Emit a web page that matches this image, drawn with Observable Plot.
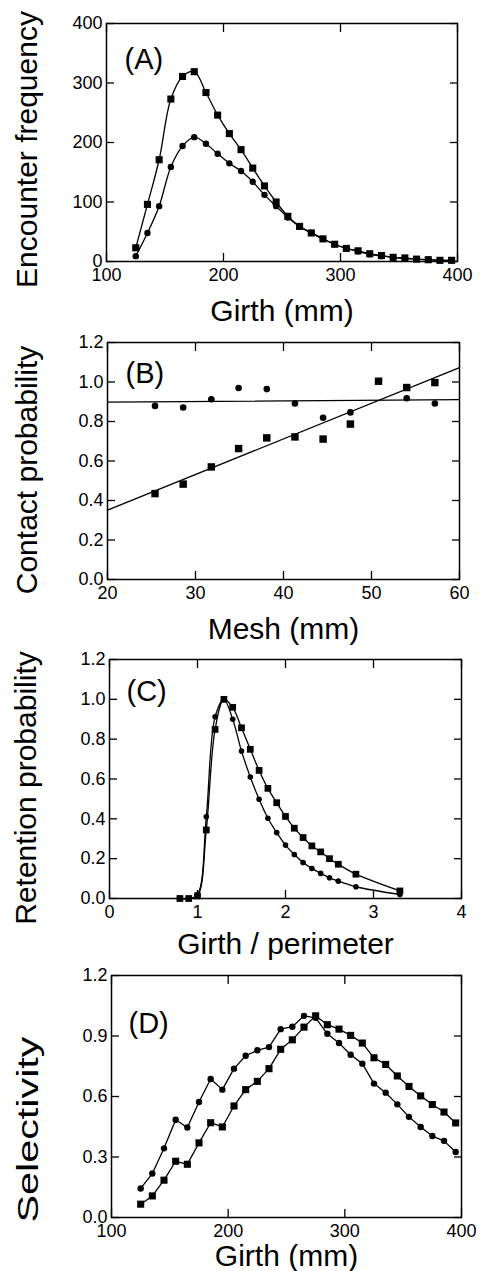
<!DOCTYPE html>
<html><head><meta charset="utf-8">
<script src="https://cdn.jsdelivr.net/npm/d3@7"></script>
<script src="https://cdn.jsdelivr.net/npm/@observablehq/plot@0.6"></script>
<style>
body{margin:0;background:#fff;}
#chart svg{display:block;}
</style></head><body><div id="chart"></div>
<script>
// Panel A & D: girth (mm)
const girth = [125,135,145,155,165,175,185,195,205,215,225,235,245,255,265,275,285,295,305,315,325,335,345,355,365,375,385,395];
const encSquares = [23,96,171,273,311,319,284,246,215,188,157,127,100,76,59,48,38,29,22,18,13,10,7,6,4,3,2,2];
const encCircles = [9,48,93,159,194,209,198,181,165,152,134,112,93,74,59,48,38,29,22,17,12,9,7,5,4,3,2,2];

// Panel B: mesh (mm)
const mesh = [25.4,28.6,31.8,34.9,38.1,41.3,44.5,47.6,50.8,54.0,57.2];
const contactSquares = [0.435,0.483,0.570,0.663,0.717,0.722,0.711,0.787,1.004,0.972,0.997];
const contactCircles = [0.879,0.871,0.913,0.970,0.964,0.891,0.819,0.846,null,0.918,0.891];
const fitMesh = [20,60];
const fitSquares = [0.351,1.073];
const fitCircles = [0.898,0.911];

// Panel C: girth / perimeter
const ratio = [0.8,0.9,1.0,1.1,1.2,1.3,1.4,1.5,1.6,1.7,1.8,1.9,2.0,2.1,2.2,2.3,2.4,2.5,2.6,2.8,3.3];
const retSquares = [0,0,0.013,0.344,0.849,1.0,0.96,0.857,0.749,0.643,0.553,0.481,0.412,0.353,0.306,0.264,0.234,0.20,0.172,0.122,0.038];
const retCircles = [0,0,0.02,0.41,0.912,1.0,0.90,0.74,0.61,0.498,0.403,0.331,0.268,0.221,0.181,0.151,0.126,0.104,0.087,0.059,0.02];

// Panel D: selectivity
const selSquares = [0.066,0.107,0.185,0.279,0.264,0.370,0.470,0.449,0.553,0.634,0.675,0.738,0.834,0.881,0.944,1.0,0.956,0.934,0.903,0.865,0.792,0.759,0.702,0.650,0.603,0.560,0.523,0.469];
const selCircles = [0.144,0.218,0.343,0.485,0.446,0.573,0.687,0.634,0.738,0.802,0.829,0.845,0.934,0.946,1.0,0.99,0.911,0.865,0.807,0.763,0.664,0.619,0.561,0.499,0.449,0.404,0.380,0.325];

// Tick values
const ticksGirth = [100,200,300,400];
const ticksEnc = [0,100,200,300,400];
const ticksMesh = [20,30,40,50,60];
const ticksProb = [0,0.2,0.4,0.6,0.8,1.0,1.2];
const ticksRatio = [0,1,2,3,4];
const ticksSel = [0,0.3,0.6,0.9,1.2];

const FONT = "'Liberation Sans', Arial, Helvetica, sans-serif";
const rec = (xs, ys) => xs.map((x, i) => ({x, y: ys[i]})).filter(d => d.y != null);

function series(xs, ys, {curve = "linear", line = true, rSq = 4, rCi = 3.2, square = false} = {}) {
  const data = rec(xs, ys);
  const m = [];
  if (line) m.push(Plot.line(data, {x: "x", y: "y", stroke: "black", strokeWidth: 1.3, curve}));
  m.push(Plot.dot(data, {x: "x", y: "y", symbol: square ? "square" : "circle", r: square ? rSq : rCi, fill: "black", stroke: "none"}));
  return m;
}

function panel(o) {
  return Plot.plot({
    width: 480, height: o.height,
    marginTop: o.mt, marginBottom: o.mb, marginLeft: o.ml, marginRight: o.mr,
    style: {fontFamily: FONT, color: "black", background: "white"},
    x: {domain: o.xDomain, axis: null},
    y: {domain: o.yDomain, axis: null},
    marks: [
      ...o.marks,
      Plot.frame({stroke: "black", strokeWidth: 1.5}),
      Plot.axisY(o.yTicks, {anchor: "left", tickSize: -8, fill: "none", strokeWidth: 1.3}),
      Plot.axisY(o.yTicks, {anchor: "right", tickSize: -8, fill: "none", strokeWidth: 1.3}),
      Plot.axisX(o.xTicks, {anchor: "bottom", tickSize: -8, fill: "none", strokeWidth: 1.3}),
      Plot.axisX(o.xTicks, {anchor: "top", tickSize: -8, fill: "none", strokeWidth: 1.3}),
      Plot.axisY(o.yTicks, {anchor: "left", tickSize: 0, tickPadding: 4, fontSize: 18, tickFormat: o.yFormat, label: null}),
      Plot.axisX(o.xTicks, {anchor: "bottom", tickSize: 0, tickPadding: 7, fontSize: 18, tickFormat: o.xFormat, label: null}),
      Plot.text([o.yTitle], {frameAnchor: "left", textAnchor: "middle", rotate: -90, lineAnchor: "top", dx: o.ytDx, dy: o.ytDy, fontSize: 30}),
      Plot.text([o.xTitle], {frameAnchor: "bottom", textAnchor: "middle", lineAnchor: "bottom", dy: o.xtDy, fontSize: 30}),
      Plot.text([o.tag], {frameAnchor: "top-left", textAnchor: "start", lineAnchor: "bottom", dx: o.tagDx, dy: o.tagDy, fontSize: 29})
    ]
  });
}

const f1 = d3.format(".1f");
const fd = d3.format("d");

const A = panel({
  height: 330, mt: 23, mb: 69, ml: 106, mr: 23,
  xDomain: [100,400], yDomain: [0,400], xTicks: ticksGirth, yTicks: ticksEnc, xFormat: fd, yFormat: fd,
  marks: [
    ...series(girth, encSquares, {curve: "catmull-rom", square: true}),
    ...series(girth, encCircles, {curve: "catmull-rom"})
  ],
  yTitle: "Encounter frequency", ytDx: -91, ytDy: 7,
  xTitle: "Girth (mm)", xtDy: 59,
  tag: "(A)", tagDx: 18, tagDy: 45
});

const B = panel({
  height: 316, mt: 12, mb: 67, ml: 107, mr: 21,
  xDomain: [20,60], yDomain: [0,1.2], xTicks: ticksMesh, yTicks: ticksProb, xFormat: fd, yFormat: f1,
  marks: [
    Plot.line(rec(fitMesh, fitCircles), {x: "x", y: "y", stroke: "black", strokeWidth: 1.3}),
    Plot.line(rec(fitMesh, fitSquares), {x: "x", y: "y", stroke: "black", strokeWidth: 1.3}),
    ...series(mesh, contactSquares, {line: false, square: true, rSq: 4.2}),
    ...series(mesh, contactCircles, {line: false, rCi: 3.3})
  ],
  yTitle: "Contact probability", ytDx: -92, ytDy: 9,
  xTitle: "Mesh (mm)", xtDy: 59,
  tag: "(B)", tagDx: 18, tagDy: 40
});

const C = panel({
  height: 314, mt: 13, mb: 62, ml: 109, mr: 19,
  xDomain: [0,4], yDomain: [0,1.2], xTicks: ticksRatio, yTicks: ticksProb, xFormat: fd, yFormat: f1,
  marks: [
    ...series(ratio, retSquares, {curve: "catmull-rom", square: true, rSq: 3.8}),
    ...series(ratio, retCircles, {curve: "catmull-rom", rCi: 2.8})
  ],
  yTitle: "Retention probability", ytDx: -95, ytDy: 9,
  xTitle: "Girth / perimeter", xtDy: 55,
  tag: "(C)", tagDx: 17, tagDy: 41
});

const D = panel({
  height: 311, mt: 15, mb: 54, ml: 111, mr: 19,
  xDomain: [100,400], yDomain: [0,1.2], xTicks: ticksGirth, yTicks: ticksSel, xFormat: fd, yFormat: f1,
  marks: [
    ...series(girth, selSquares, {square: true}),
    ...series(girth, selCircles, {})
  ],
  yTitle: "Selectivity", ytDx: -95, ytDy: 33,
  xTitle: "Girth (mm)", xtDy: 48,
  tag: "(D)", tagDx: 17, tagDy: 57
});

d3.select(D).selectAll("text").filter(function () { return this.textContent === "Selectivity"; })
  .attr("textLength", 186).attr("lengthAdjust", "spacingAndGlyphs");

const root = document.getElementById("chart");
[A, B, C, D].forEach(s => root.appendChild(s));
</script>
</body></html>
